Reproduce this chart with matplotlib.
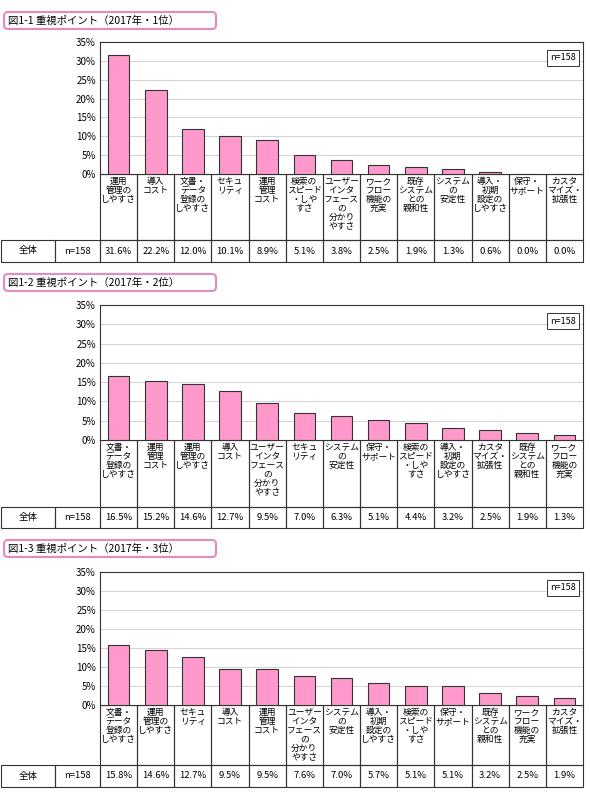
import matplotlib
matplotlib.use("Agg")
import matplotlib.pyplot as plt
from matplotlib.patches import FancyBboxPatch, Rectangle

plt.rcParams["font.family"] = ["Noto Sans CJK JP", "DejaVu Sans"]

W, H = 590, 799

# label text (with line breaks as in the chart)
LABELS = {
    "運用管理のしやすさ": "運用\n管理の\nしやすさ",
    "導入コスト": "導入\nコスト",
    "文書・データ登録のしやすさ": "文書・\nデータ\n登録の\nしやすさ",
    "セキュリティ": "セキュ\nリティ",
    "運用管理コスト": "運用\n管理\nコスト",
    "検索のスピード・しやすさ": "検索の\nスピード\n・しや\nすさ",
    "ユーザーインタフェースの分かりやすさ": "ユーザー\nインタ\nフェース\nの\n分かり\nやすさ",
    "ワークフロー機能の充実": "ワーク\nフロー\n機能の\n充実",
    "既存システムとの親和性": "既存\nシステム\nとの\n親和性",
    "システムの安定性": "システム\nの\n安定性",
    "導入・初期設定のしやすさ": "導入・\n初期\n設定の\nしやすさ",
    "保守・サポート": "保守・\nサポート",
    "カスタマイズ・拡張性": "カスタ\nマイズ・\n拡張性",
}

titles = ["図1-1 重視ポイント（2017年・1位）",
          "図1-2 重視ポイント（2017年・2位）",
          "図1-3 重視ポイント（2017年・3位）"]

cats1 = ["運用管理のしやすさ", "導入コスト", "文書・データ登録のしやすさ", "セキュリティ",
         "運用管理コスト", "検索のスピード・しやすさ", "ユーザーインタフェースの分かりやすさ",
         "ワークフロー機能の充実", "既存システムとの親和性", "システムの安定性",
         "導入・初期設定のしやすさ", "保守・サポート", "カスタマイズ・拡張性"]
vals1 = [31.6, 22.2, 12.0, 10.1, 8.9, 5.1, 3.8, 2.5, 1.9, 1.3, 0.6, 0.0, 0.0]

cats2 = ["文書・データ登録のしやすさ", "運用管理コスト", "運用管理のしやすさ", "導入コスト",
         "ユーザーインタフェースの分かりやすさ", "セキュリティ", "システムの安定性",
         "保守・サポート", "検索のスピード・しやすさ", "導入・初期設定のしやすさ",
         "カスタマイズ・拡張性", "既存システムとの親和性", "ワークフロー機能の充実"]
vals2 = [16.5, 15.2, 14.6, 12.7, 9.5, 7.0, 6.3, 5.1, 4.4, 3.2, 2.5, 1.9, 1.3]

cats3 = ["文書・データ登録のしやすさ", "運用管理のしやすさ", "セキュリティ", "導入コスト",
         "運用管理コスト", "ユーザーインタフェースの分かりやすさ", "システムの安定性",
         "導入・初期設定のしやすさ", "検索のスピード・しやすさ", "保守・サポート",
         "既存システムとの親和性", "ワークフロー機能の充実", "カスタマイズ・拡張性"]
vals3 = [15.8, 14.6, 12.7, 9.5, 9.5, 7.6, 7.0, 5.7, 5.1, 5.1, 3.2, 2.5, 1.9]

n_label = "n=158"
yticks = [0, 5, 10, 15, 20, 25, 30, 35]

# (title_top, plot_top, plot_zero, table_top, table_bottom) in pixels
layout = [(10, 42, 174, 240, 262),
          (272, 305, 440, 507, 528),
          (538, 572, 705, 765, 787)]

PX_L, PX_R = 100, 583
PINK = "#ff99cc"
FS = 6.3

fig = plt.figure(figsize=(W / 100, H / 100), dpi=100)
ov = fig.add_axes([0, 0, 1, 1])
ov.set_xlim(0, W)
ov.set_ylim(H, 0)
ov.axis("off")

for title, cats, vals, (tt, pt, pz, tbt, tbb) in zip(
        titles, [cats1, cats2, cats3], [vals1, vals2, vals3], layout):
    # title box
    ov.add_patch(FancyBboxPatch((4, tt + 2), 212, 17, boxstyle="round,pad=0,rounding_size=4",
                                fc="white", ec="#e889c0", lw=1.5, zorder=3))
    ov.text(8, tt + 10.5, title, fontsize=7.5, va="center", ha="left", zorder=4)

    ax = fig.add_axes([PX_L / W, 1 - pz / H, (PX_R - PX_L) / W, (pz - pt) / H])
    n = len(cats)
    ax.bar(range(n), vals, width=0.58, color=PINK, edgecolor="#333333", lw=0.8, zorder=3)
    ax.set_xlim(-0.5, n - 0.5)
    ax.set_ylim(0, 35)
    ax.set_yticks(yticks)
    ax.set_yticklabels([f"{v}%" for v in yticks], fontsize=7)
    ax.tick_params(length=0, pad=3)
    ax.set_xticks([])
    ax.grid(axis="y", color="#cccccc", lw=0.6, zorder=0)
    for s in ax.spines.values():
        s.set_color("#333333")
        s.set_linewidth(0.8)
    ax.text(0.985, 0.88, n_label, transform=ax.transAxes, ha="right", va="center",
            fontsize=6.5, bbox=dict(fc="white", ec="#333333", lw=0.7, pad=2.5), zorder=5)

    # category label cells and table row
    cw = (PX_R - PX_L) / n
    for i, (c, v) in enumerate(zip(cats, vals)):
        x0 = PX_L + i * cw
        ov.add_patch(Rectangle((x0, pz), cw, tbt - pz, fill=False, ec="#333333", lw=0.8))
        ov.text(x0 + cw / 2, pz + 3, LABELS[c], ha="center", va="top", fontsize=FS,
                linespacing=1.0)
        ov.add_patch(Rectangle((x0, tbt), cw, tbb - tbt, fill=False, ec="#333333", lw=0.8))
        ov.text(x0 + cw / 2, (tbt + tbb) / 2, f"{v:.1f}%", ha="center", va="center", fontsize=6.8)
    ov.add_patch(Rectangle((1, tbt), 54, tbb - tbt, fill=False, ec="#333333", lw=0.8))
    ov.add_patch(Rectangle((55, tbt), PX_L - 55, tbb - tbt, fill=False, ec="#333333", lw=0.8))
    ov.text(28, (tbt + tbb) / 2, "全体", ha="center", va="center", fontsize=6.8)
    ov.text(77.5, (tbt + tbb) / 2, n_label, ha="center", va="center", fontsize=6.8)

fig.savefig("out.png", dpi=100)
